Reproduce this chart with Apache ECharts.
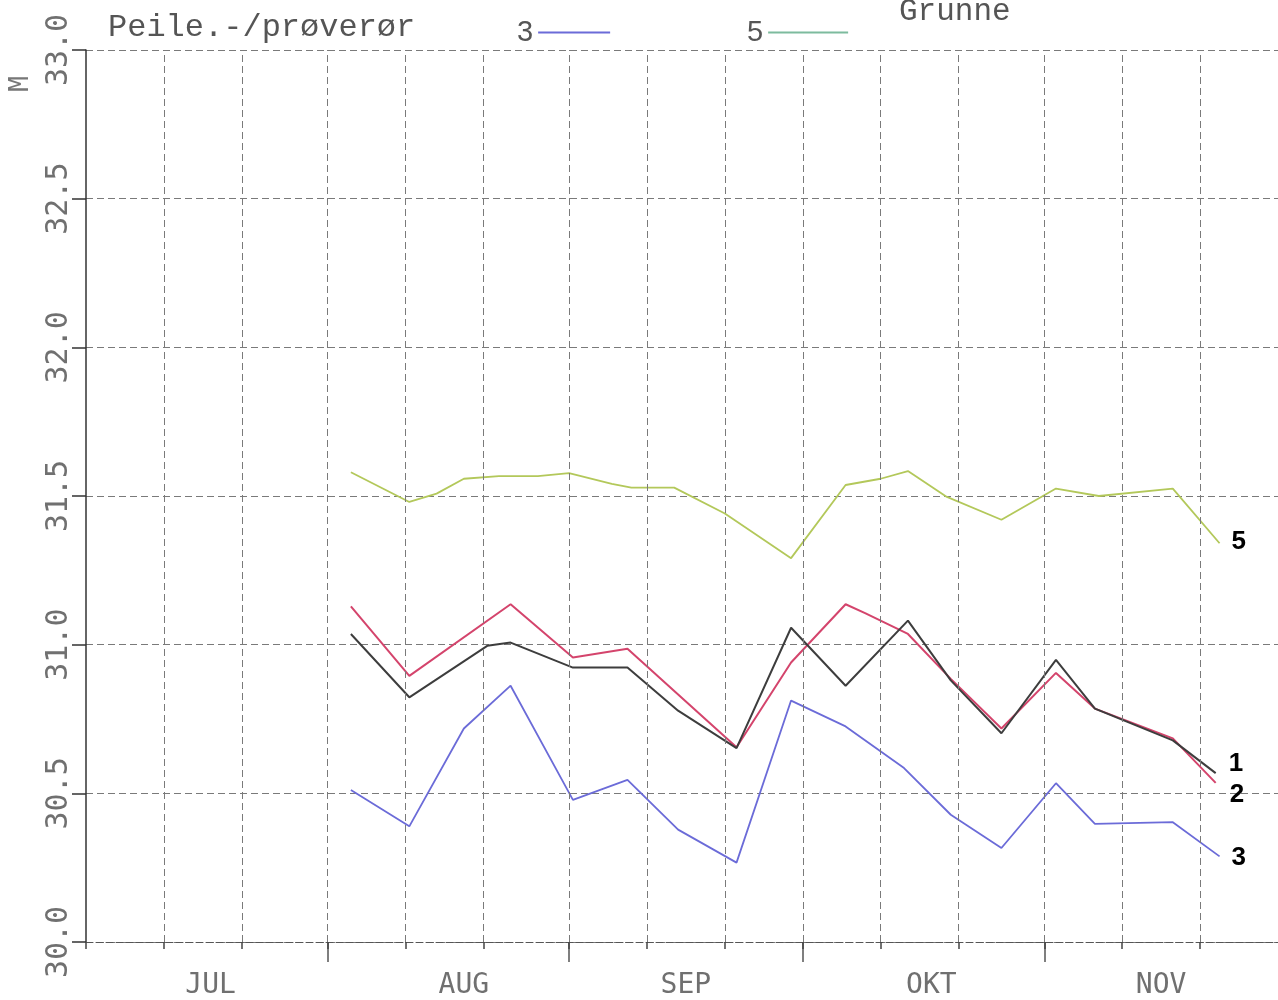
<!DOCTYPE html>
<html>
<head>
<meta charset="utf-8">
<script src="https://cdn.jsdelivr.net/npm/echarts@6/dist/echarts.min.js"></script>
<style>
  html, body { margin: 0; padding: 0; background: #ffffff; }
  #chart { width: 1278px; height: 1000px; }
</style>
</head>
<body>
<div id="chart"></div>
<script>
// x values are days after 1 July (0 = 1 JUL, 153 = 1 DEC)
const months = ['JUL', 'AUG', 'SEP', 'OKT', 'NOV'];
const monthLabelDays = [16, 48.5, 77, 108.5, 138];
const monthStartDays = [31, 62, 92, 123];
const gridDays = [0, 10, 20, 31, 41, 51, 62, 72, 82, 92, 102, 112, 123, 133, 143];
const yTicks = [30.0, 30.5, 31.0, 31.5, 32.0, 32.5, 33.0];

// Series 1 (black)
const days1 = [34, 41.5, 51.5, 54.5, 62.5, 69.5, 76, 83.5, 90.5, 97.5, 105.5, 111, 117.5, 124.5, 129.5, 139.5, 145];
const vals1 = [31.036, 30.823, 30.996, 31.007, 30.923, 30.923, 30.778, 30.652, 31.057, 30.862, 31.081, 30.88, 30.702, 30.949, 30.785, 30.678, 30.568];

// Series 2 (red)
const days2 = [34, 41.5, 54.5, 62.5, 69.5, 83.5, 90.5, 97.5, 100, 105.5, 111, 117.5, 124.5, 129.5, 139.5, 145];
const vals2 = [31.129, 30.895, 31.136, 30.957, 30.986, 30.655, 30.94, 31.136, 31.106, 31.036, 30.885, 30.718, 30.905, 30.785, 30.685, 30.535];

// Series 3 (blue)
const days3 = [34, 41.5, 48.5, 54.5, 62.5, 69.5, 76, 83.5, 90.5, 97.5, 105, 111, 117.5, 124.5, 129.5, 139.5, 145.5];
const vals3 = [30.511, 30.389, 30.718, 30.862, 30.478, 30.545, 30.378, 30.267, 30.812, 30.725, 30.585, 30.428, 30.316, 30.534, 30.397, 30.403, 30.288];

// Series 5 (green, Grunne)
const days5 = [34, 41.5, 45, 48.5, 53, 58, 62, 67.5, 70, 75.5, 82, 90.5, 97.5, 102, 105.5, 110.5, 117.5, 124.5, 130, 139.5, 145.5];
const vals5 = [31.58, 31.48, 31.508, 31.558, 31.567, 31.567, 31.577, 31.541, 31.528, 31.528, 31.441, 31.291, 31.537, 31.558, 31.584, 31.497, 31.42, 31.525, 31.50, 31.525, 31.341];

const zip = (d, v) => d.map((x, i) => [x, v[i]]);

const gridLineStyle = { color: '#7a7a7a', width: 1, type: [7, 4] };
const endLabelBase = { show: true, color: '#000', fontSize: 26, fontWeight: 'bold', fontFamily: 'Liberation Sans', distance: 3 };

const chart = echarts.init(document.getElementById('chart'), null, { renderer: 'canvas' });
chart.setOption({
  backgroundColor: '#ffffff',
  animation: false,
  grid: { left: 86, top: 50, width: 1200, height: 898, containLabel: false },
  xAxis: [
    {
      type: 'value', min: 0, max: 153, position: 'bottom',
      axisLine: { show: true, lineStyle: { color: '#555', width: 1, type: [7, 3] } },
      axisTick: { show: true, customValues: monthStartDays, length: 20, inside: false, lineStyle: { color: '#555', width: 1.5 } },
      axisLabel: { show: false },
      splitLine: { show: false }
    },
    {
      type: 'value', min: 0, max: 153, position: 'bottom',
      axisLine: { show: false },
      axisTick: { show: true, customValues: gridDays, length: 7, inside: false, lineStyle: { color: '#444', width: 1.5 } },
      axisLabel: {
        show: true, customValues: monthLabelDays, margin: 30,
        formatter: (v) => { const i = monthLabelDays.indexOf(v); return i >= 0 ? months[i] : ''; },
        color: '#707070', fontSize: 28, fontFamily: 'DejaVu Sans Mono'
      },
      splitLine: { show: false }
    }
  ],
  yAxis: {
    type: 'value', min: 30, max: 33, interval: 0.5,
    axisLine: { show: true, lineStyle: { color: '#333', width: 1.5 } },
    axisTick: { show: true, length: 14, lineStyle: { color: '#333', width: 1.5 } },
    axisLabel: {
      rotate: 90, margin: 12, color: '#707070', fontSize: 30, fontFamily: 'DejaVu Sans Mono',
      formatter: (v) => v.toFixed(1)
    },
    splitLine: { show: true, lineStyle: gridLineStyle }
  },
  legend: [
    {
      data: [{ name: '3', itemStyle: { color: '#6b6bd8' } }],
      left: 512, top: 13, align: 'right', icon: 'rect', itemWidth: 72, itemHeight: 2,
      selectedMode: false,
      textStyle: { fontSize: 29, color: '#555', fontFamily: 'Liberation Sans' }
    },
    {
      data: [{ name: '5', itemStyle: { color: '#7dbb9e' } }],
      left: 742, top: 13, align: 'right', icon: 'rect', itemWidth: 80, itemHeight: 2,
      selectedMode: false,
      textStyle: { fontSize: 29, color: '#555', fontFamily: 'Liberation Sans' }
    }
  ],
  graphic: [
    { type: 'text', left: 108, top: 12, style: { text: 'Peile.-/prøverør', font: '32px "Liberation Mono"', fill: '#555' } },
    { type: 'text', left: 899, top: -4, style: { text: 'Grunne', font: '31px "Liberation Mono"', fill: '#555' } },
    { type: 'text', x: 21, y: 84, rotation: Math.PI / 2, style: { text: 'M', font: '26px "DejaVu Sans Mono"', fill: '#777', align: 'center', verticalAlign: 'middle' } }
  ],
  series: [
    {
      name: '1', type: 'line', xAxisIndex: 0, data: zip(days1, vals1),
      showSymbol: false, symbol: 'none',
      lineStyle: { color: '#3d3d3d', width: 2 },
      itemStyle: { color: '#3d3d3d' },
      endLabel: Object.assign({}, endLabelBase, { formatter: '1', offset: [10, -9] }),
      markLine: {
        silent: true, symbol: 'none', label: { show: false },
        lineStyle: gridLineStyle,
        data: gridDays.slice(1).map(d => ({ xAxis: d }))
      },
      z: 4
    },
    {
      name: '2', type: 'line', xAxisIndex: 0, data: zip(days2, vals2),
      showSymbol: false, symbol: 'none',
      lineStyle: { color: '#d4446c', width: 2 },
      itemStyle: { color: '#d4446c' },
      endLabel: Object.assign({}, endLabelBase, { formatter: '2', offset: [11, 12] }),
      z: 3
    },
    {
      name: '3', type: 'line', xAxisIndex: 0, data: zip(days3, vals3),
      showSymbol: false, symbol: 'none',
      lineStyle: { color: '#6b6bd8', width: 1.8 },
      itemStyle: { color: '#6b6bd8' },
      endLabel: Object.assign({}, endLabelBase, { formatter: '3', offset: [9, 1] }),
      z: 3
    },
    {
      name: '5', type: 'line', xAxisIndex: 0, data: zip(days5, vals5),
      showSymbol: false, symbol: 'none',
      lineStyle: { color: '#b3c85a', width: 1.8 },
      itemStyle: { color: '#b3c85a' },
      endLabel: Object.assign({}, endLabelBase, { formatter: '5', offset: [9, -1] }),
      z: 3
    }
  ]
});
</script>
</body>
</html>
